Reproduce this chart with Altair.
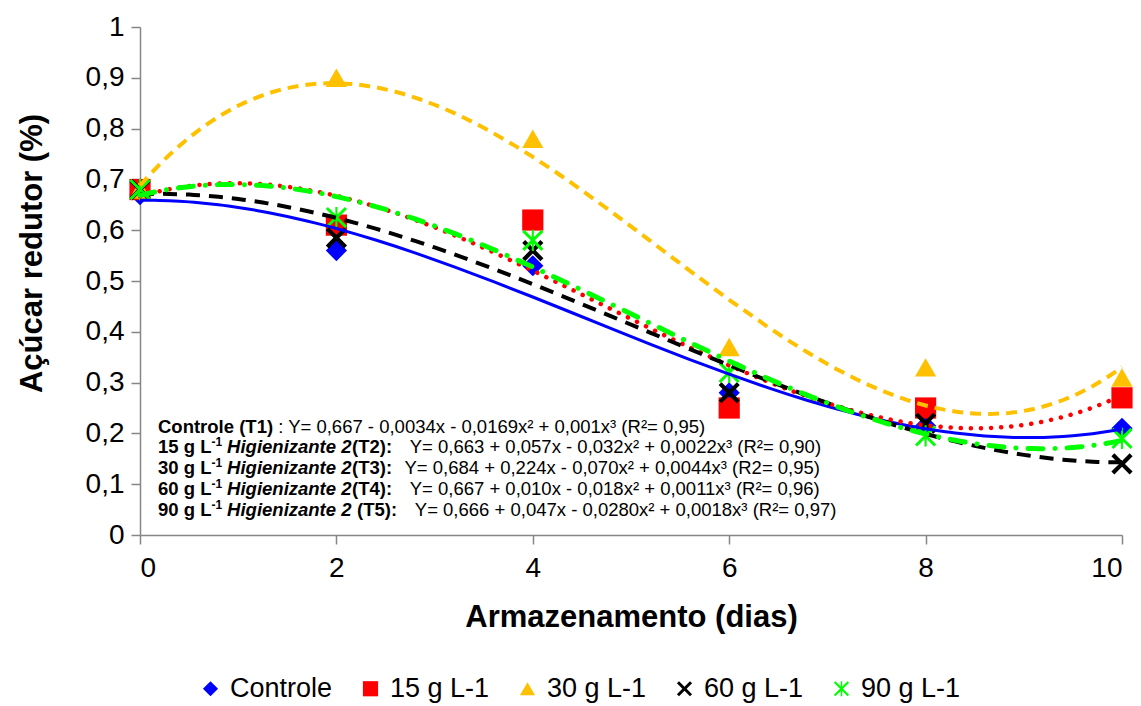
import altair as alt
import pandas as pd

FONT = "Liberation Sans"

# ---- data ----
days = [0, 2, 4, 6, 8, 10]
series_names = ["Controle", "15 g L-1", "30 g L-1", "60 g L-1", "90 g L-1"]
controle = [0.67, 0.56, 0.53, 0.28, 0.215, 0.21]
g15 = [0.68, 0.61, 0.62, 0.25, 0.25, 0.27]
g30 = [0.68, 0.90, 0.78, 0.37, 0.33, 0.31]
g60 = [0.68, 0.585, 0.56, 0.28, 0.22, 0.14]
g90 = [0.68, 0.625, 0.58, 0.32, 0.195, 0.19]
all_series = [controle, g15, g30, g60, g90]

colors = ["#0000FF", "#FF0000", "#FFC000", "#000000", "#00FF00"]
X_PATH = ("M-1,-0.72L-0.28,0L-1,0.72L-0.72,1L0,0.28L0.72,1L1,0.72L0.28,0"
          "L1,-0.72L0.72,-1L0,-0.28L-0.72,-1Z")
AST_PATH = ("M-1,-0.8L-0.2,0L-1,0.8L-0.8,1L0,0.2L0.8,1L1,0.8L0.2,0"
            "L1,-0.8L0.8,-1L0,-0.2L-0.8,-1Z M-0.1,-1L-0.1,1L0.1,1L0.1,-1Z")
shapes = ["diamond", "square", "triangle-up", X_PATH, AST_PATH]

# line styles of the trend lines: (dash, width, cap)
line_styles = [
    (None, 3, "butt"),
    ([0.1, 10], 4.5, "round"),
    ([11, 7], 4, "butt"),
    ([14, 9], 4, "butt"),
    ([15, 12, 0.1, 12], 5, "round"),
]

# equations annotation (text segments)
eq_regular = [
    ": Y= 0,667 - 0,0034x - 0,0169x\u00b2 + 0,001x\u00b3 (R\u00b2= 0,95)",
    "Y= 0,663 + 0,057x - 0,032x\u00b2 + 0,0022x\u00b3 (R\u00b2= 0,90)",
    "Y= 0,684 + 0,224x - 0,070x\u00b2 + 0,0044x\u00b3 (R2= 0,95)",
    "Y= 0,667 + 0,010x - 0,018x\u00b2 + 0,0011x\u00b3 (R\u00b2= 0,96)",
    "Y= 0,666 + 0,047x - 0,0280x\u00b2 + 0,0018x\u00b3 (R\u00b2= 0,97)",
]
eq_labels = ["Controle (T1)", "15 g L", "30 g L", "60 g L", "90 g L"]
eq_tags = ["(T2):", "(T3):", "(T4):", "(T5):"]

# ---- layout ----
W, H = 982, 508
LEFT, TOP = 140, 27
PX_DAY = W / 10.0


def to_dx(px):
    return (px - LEFT) / PX_DAY


def to_dy(py):
    return (TOP + H - py) / H


line_base = [432.7, 453.4, 474.1, 494.8, 515.5]
x_reg = [278.2, 409.7, 404.5, 409.7, 414.8]
x_tag = [352.0, 352.0, 352.0, 357.0]

rows = []
for name, vals in zip(series_names, all_series):
    for d, v in zip(days, vals):
        rows.append({"dias": d, "valor": v, "serie": name})
df = pd.DataFrame(rows)

ann = []
for i in range(5):
    yb = line_base[i]
    ann.append({"t": eq_labels[i], "ax": to_dx(158), "ay": to_dy(yb), "k": "bold"})
    ann.append({"t": eq_regular[i], "ax": to_dx(x_reg[i]), "ay": to_dy(yb), "k": "reg"})
    if i > 0:
        ann.append({"t": "-1", "ax": to_dx(211.5), "ay": to_dy(yb - 7), "k": "sup"})
        ann.append({"t": "Higienizante 2", "ax": to_dx(227.1), "ay": to_dy(yb), "k": "ital"})
        ann.append({"t": eq_tags[i - 1], "ax": to_dx(x_tag[i - 1]), "ay": to_dy(yb), "k": "bold"})
ann_df = pd.DataFrame(ann)

x_scale = alt.Scale(domain=[0, 10], nice=False, zero=False)
y_scale = alt.Scale(domain=[0, 1], nice=False)

x_axis = alt.Axis(
    title="Armazenamento (dias)", values=[0, 2, 4, 6, 8, 10], grid=False,
    labelFontSize=28, labelFont=FONT, labelColor="#000000", labelPadding=10,
    tickSize=9, tickColor="#868686", tickWidth=1.5,
    domainColor="#868686", domainWidth=1.5,
    titleFontSize=31, titleFont=FONT, titleFontWeight="bold", titleColor="#000000",
    titleY=82, titleBaseline="middle",
)
y_axis = alt.Axis(
    title="A\u00e7\u00facar redutor (%)", values=[i / 10 for i in range(11)], grid=False,
    labelExpr="replace(format(datum.value, '.1~f'), '.', ',')",
    labelFontSize=28, labelFont=FONT, labelColor="#000000", labelPadding=7,
    tickSize=9, tickColor="#868686", tickWidth=1.5,
    domainColor="#868686", domainWidth=1.5,
    titleFontSize=31, titleFont=FONT, titleFontWeight="bold", titleColor="#000000",
    titleX=-108, titleY=226, titleBaseline="middle",
)

legend = alt.Legend(
    title=None, orient="none", legendX=57, legendY=648, direction="horizontal",
    columns=5, labelFontSize=27, labelFont=FONT, labelColor="#000000",
    symbolSize=230, columnPadding=24, labelOffset=6, padding=0,
    symbolStrokeWidth=0,
)

points = alt.Chart(df).mark_point(filled=True, opacity=1, size=450, strokeWidth=0).encode(
    x=alt.X("dias:Q", scale=x_scale, axis=x_axis),
    y=alt.Y("valor:Q", scale=y_scale, axis=y_axis),
    color=alt.Color("serie:N", scale=alt.Scale(domain=series_names, range=colors), legend=legend),
    shape=alt.Shape("serie:N", scale=alt.Scale(domain=series_names, range=shapes), legend=legend),
    order=alt.Order("idx:Q"),
).transform_calculate(idx="indexof(['Controle','15 g L-1','30 g L-1','60 g L-1','90 g L-1'], datum.serie)")

layers = [points]
for name, col, (dash, width, cap) in zip(series_names, colors, line_styles):
    mk = dict(color=col, strokeWidth=width, strokeCap=cap)
    if dash is not None:
        mk["strokeDash"] = dash
    ln = (
        alt.Chart(df)
        .transform_filter(alt.datum.serie == name)
        .transform_regression("dias", "valor", method="poly", order=3)
        .mark_line(**mk)
        .encode(
            x=alt.X("dias:Q", scale=x_scale, axis=x_axis),
            y=alt.Y("valor:Q", scale=y_scale, axis=y_axis),
        )
    )
    layers.append(ln)

text_styles = {
    "bold": dict(fontSize=18.5, fontWeight="bold"),
    "reg": dict(fontSize=18.5, fontWeight="normal"),
    "ital": dict(fontSize=18.5, fontWeight="bold", fontStyle="italic"),
    "sup": dict(fontSize=12, fontWeight="bold"),
}
for k, st in text_styles.items():
    sub = ann_df[ann_df["k"] == k]
    tl = alt.Chart(sub).mark_text(
        align="left", baseline="alphabetic", font=FONT, color="#000000", **st
    ).encode(
        x=alt.X("ax:Q", scale=x_scale, axis=x_axis),
        y=alt.Y("ay:Q", scale=y_scale, axis=y_axis),
        text="t:N",
    )
    layers.append(tl)

chart = alt.layer(*layers).properties(
    width=W, height=H,
    autosize=alt.AutoSizeParams(type="none"),
    padding={"left": LEFT, "top": TOP, "right": 1141 - LEFT - W, "bottom": 706 - TOP - H},
    background="#FFFFFF",
).configure_view(stroke=None)

chart.save("out.html", embed_options={"renderer": "svg", "actions": False})
